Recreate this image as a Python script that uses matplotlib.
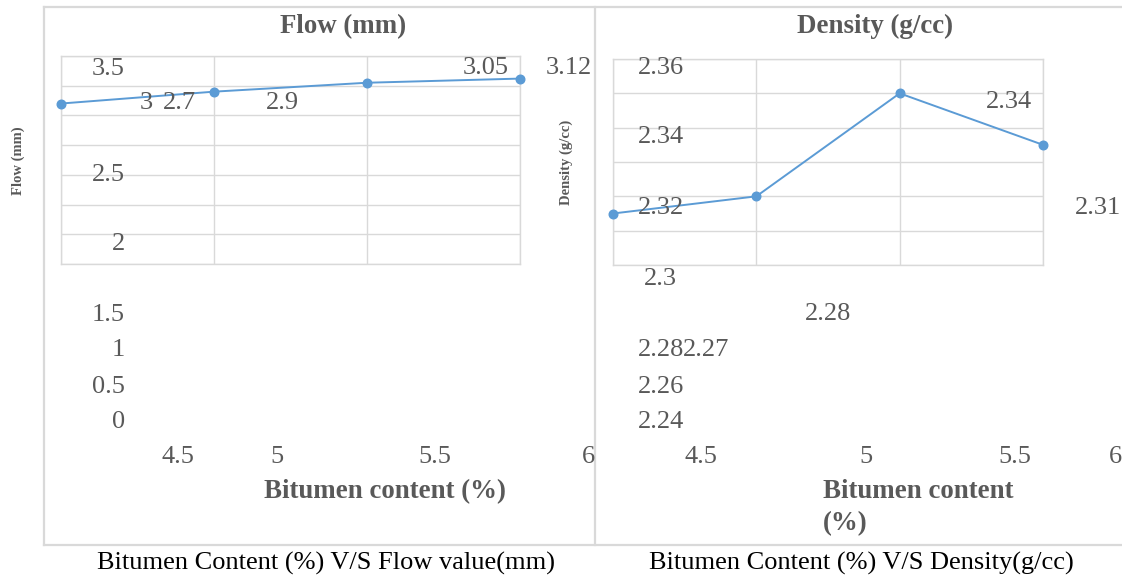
import matplotlib
matplotlib.use('Agg')
import matplotlib.pyplot as plt
from matplotlib.lines import Line2D

plt.rcParams['font.family'] = ['Liberation Serif', 'DejaVu Serif']

# data
bitumen = [4.5, 5.0, 5.5, 6.0]
flow = [2.7, 2.9, 3.05, 3.12]
density = [2.27, 2.28, 2.34, 2.31]

flow_yticks = [0, 0.5, 1, 1.5, 2, 2.5, 3, 3.5]
flow_ylabels = ['0', '0.5', '1', '1.5', '2', '2.5', '3', '3.5']
dens_yticks = [2.24, 2.26, 2.28, 2.30, 2.32, 2.34, 2.36]
dens_ylabels = ['2.24', '2.26', '2.28', '2.3', '2.32', '2.34', '2.36']
xtick_labels = ['4.5', '5', '5.5', '6']

W, H = 1122, 577
fig = plt.figure(figsize=(W / 100, H / 100), dpi=100, facecolor='white')

def fx(x):
    return x / W

def fy(y):
    return 1 - y / H

def put(s, x, y, ha='center', va='baseline', **kw):
    kw.setdefault('fontsize', 19)
    kw.setdefault('color', '#595959')
    fig.text(fx(x), fy(y), s, ha=ha, va=va, **kw)

LINE = '#5b9bd5'
GRID = '#d9d9d9'
BOLD = 19.4

def make_axes(l, t, r, b, ylim, yticks, y):
    ax = fig.add_axes([fx(l), fy(b), (r - l) / W, (b - t) / H])
    ax.plot(bitumen, y, color=LINE, lw=1.4, marker='o', ms=6.2, clip_on=False, zorder=3)
    ax.set_xlim(4.5, 6)
    ax.set_ylim(*ylim)
    ax.set_xticks(bitumen)
    ax.set_yticks(yticks)
    ax.tick_params(length=0, labelbottom=False, labelleft=False)
    ax.grid(True, color=GRID, lw=1)
    for s in ax.spines.values():
        s.set_color(GRID)
        s.set_linewidth(1)
    return ax

ax1 = make_axes(61, 56, 520, 264, (0, 3.5), flow_yticks, flow)
ax2 = make_axes(613, 59, 1043, 265, (2.24, 2.36), dens_yticks, density)

# panel borders
for (x0, y0, x1, y1) in [(44, 7, 44, 545), (44, 7, 1122, 7), (595, 7, 595, 545), (44, 545, 1122, 545)]:
    fig.add_artist(Line2D([fx(x0), fx(x1)], [fy(y0), fy(y1)], color=GRID, lw=1.6))

# left chart texts
put('Flow (mm)', 343, 33, fontsize=BOLD, fontweight='bold')
put('Flow (mm)', 18, 161, va='center', rotation=90, fontsize=10.5, fontweight='bold')
flow_tick_pos = [(125, 428), (125, 393), (125, 356), (125, 321), (125, 250), (125, 181), (153, 109), (125, 75)]
for lab, (x, y) in zip(flow_ylabels, flow_tick_pos):
    put(lab, x, y, ha='right')
flow_lab_pos = [(179, 109), (282, 109), (486, 74), (569, 74)]
for v, (x, y) in zip(flow, flow_lab_pos):
    put(f'{v:g}', x, y)
for lab, x in zip(xtick_labels, [178, 277, 435, 588]):
    put(lab, x, 463)
put('Bitumen content (%)', 385, 498, fontsize=BOLD, fontweight='bold')
put('Bitumen Content (%) V/S Flow value(mm)', 326, 570, color='black')

# right chart texts
put('Density (g/cc)', 875, 33, fontsize=BOLD, fontweight='bold')
put('Density (g/cc)', 566, 162, va='center', rotation=90, fontsize=10.5, fontweight='bold')
dens_tick_pos = [(638, 428), (638, 393), (638, 356), (644, 285), (638, 214), (638, 143), (638, 74)]
for lab, (x, y) in zip(dens_ylabels, dens_tick_pos):
    put(lab, x, y, ha='left')
dens_lab_pos = [(706, 356), (828, 320), (1009, 108), (1098, 214)]
for v, (x, y) in zip(density, dens_lab_pos):
    put(f'{v:g}', x, y)
for lab, x in zip(xtick_labels, [701, 866, 1015, 1115]):
    put(lab, x, 463)
put('Bitumen content', 823, 498, ha='left', fontsize=BOLD, fontweight='bold')
put('(%)', 823, 530, ha='left', fontsize=BOLD, fontweight='bold')
put('Bitumen Content (%) V/S Density(g/cc)', 861, 570, color='black')

fig.savefig('out.png', dpi=100, facecolor='white')
